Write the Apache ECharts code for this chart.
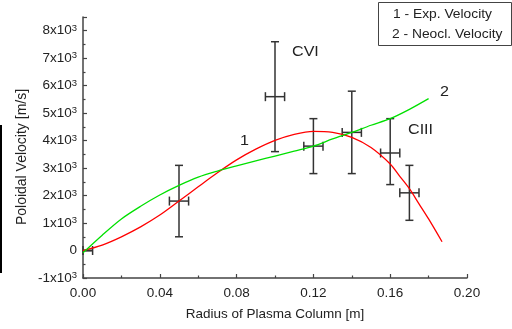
<!DOCTYPE html>
<html>
<head>
<meta charset="utf-8">
<script src="https://cdn.jsdelivr.net/npm/echarts@6/dist/echarts.min.js"></script>
<style>html,body{margin:0;padding:0;background:#fff;}#c{width:512px;height:329px;}</style>
</head>
<body>
<div id="c"></div>
<script>
// Curve 1: experimental velocity (red)
const expX = [0, 0.01, 0.02, 0.03, 0.04, 0.05, 0.06, 0.07, 0.08, 0.09, 0.10, 0.11, 0.12, 0.13, 0.14, 0.15, 0.16, 0.165, 0.17, 0.175, 0.18, 0.187];
const expY = [0, 200, 500, 860, 1290, 1800, 2320, 2830, 3300, 3690, 4010, 4230, 4340, 4300, 4120, 3750, 3150, 2700, 2250, 1700, 1150, 320];
// Curve 2: neoclassical velocity (green)
const neoX = [0, 0.01, 0.02, 0.03, 0.04, 0.05, 0.06, 0.07, 0.08, 0.09, 0.10, 0.11, 0.12, 0.13, 0.14, 0.15, 0.16, 0.17, 0.18];
const neoY = [-80, 560, 1150, 1610, 2020, 2370, 2670, 2890, 3080, 3260, 3440, 3620, 3800, 4060, 4300, 4560, 4800, 5140, 5530];
// Measured points with error bars
const ptX   = [0.0025, 0.05, 0.10, 0.12, 0.14, 0.16, 0.17];
const ptY   = [0, 1800, 5600, 3800, 4300, 3550, 2100];
const ptXlo = [0.0, 0.045, 0.095, 0.115, 0.135, 0.155, 0.165];
const ptXhi = [0.005, 0.055, 0.105, 0.125, 0.145, 0.165, 0.175];
const ptYlo = [0, 500, 3600, 2800, 2800, 2400, 1100];
const ptYhi = [0, 3100, 7600, 4800, 5800, 4800, 3100];
const xTicks = [0.00, 0.04, 0.08, 0.12, 0.16, 0.20];
const yTicks = [-1000, 0, 1000, 2000, 3000, 4000, 5000, 6000, 7000, 8000];
const legendLines = ['1 - Exp. Velocity', '2 - Neocl. Velocity'];
const xTitle = 'Radius of Plasma Column [m]';
const yTitle = 'Poloidal Velocity [m/s]';

const FONT = '"Liberation Sans", Arial, sans-serif';
const SX = 1.15; // horizontal stretch of the reference's free text
const chart = echarts.init(document.getElementById('c'));
const errData = ptX.map((x, i) => [x, ptY[i], ptXlo[i], ptXhi[i], ptYlo[i], ptYhi[i]]);

function yLabel(v) {
  if (v === 0) return '{n|0}';
  const n = v / 1000;
  return '{n|' + n + 'x10}{s|3}';
}
function txt(x, y, text, size) {
  return { type: 'text', x: x, y: y, scaleX: SX, style: { text: text, font: size + 'px ' + FONT, fill: '#222', align: 'left', verticalAlign: 'top' } };
}

chart.setOption({
  animation: false,
  backgroundColor: '#fff',
  grid: { left: 83, right: 45, top: 17, bottom: 51, containLabel: false },
  xAxis: {
    type: 'value', min: 0, max: 0.2, interval: 0.04,
    name: xTitle, nameLocation: 'middle', nameGap: 29,
    nameTextStyle: { fontFamily: FONT, fontSize: 13.5, color: '#222' },
    axisLine: { show: true, onZero: false, lineStyle: { color: '#444', width: 1.5 } },
    axisTick: { show: true, inside: true, length: 4, lineStyle: { color: '#444', width: 1.2 } },
    minorTick: { show: true, splitNumber: 2, length: 2.5, lineStyle: { color: '#444', width: 1.2 } },
    splitLine: { show: false },
    axisLabel: { fontFamily: FONT, fontSize: 13.5, color: '#222', margin: 8,
      formatter: v => xTicks.includes(Math.round(v * 100) / 100) ? v.toFixed(2) : '' }
  },
  yAxis: {
    type: 'value', min: -1000, max: 8500, interval: 1000,
    axisLine: { show: true, onZero: false, lineStyle: { color: '#444', width: 1.5 } },
    axisTick: { show: true, inside: true, length: 4, lineStyle: { color: '#444', width: 1.2 } },
    minorTick: { show: true, splitNumber: 2, length: 2.5, lineStyle: { color: '#444', width: 1.2 } },
    splitLine: { show: false },
    axisLabel: {
      showMaxLabel: false, margin: 6,
      formatter: v => yTicks.includes(v) ? yLabel(v) : '',
      fontFamily: FONT, fontSize: 13.5, color: '#222',
      rich: {
        n: { fontFamily: FONT, fontSize: 13.5, color: '#222' },
        s: { fontFamily: FONT, fontSize: 9.5, color: '#222', verticalAlign: 'top', padding: [0, 0, 5, 0] }
      }
    }
  },
  series: [
    {
      type: 'custom', name: 'points', data: errData, z: 2,
      renderItem: function (params, api) {
        const x = api.value(0), y = api.value(1);
        const pl = api.coord([api.value(2), y]);
        const ph = api.coord([api.value(3), y]);
        const pb = api.coord([x, api.value(4)]);
        const pt = api.coord([x, api.value(5)]);
        const cw = 4, ch = 4.5;
        const st = { stroke: '#333', lineWidth: 1.5, fill: null };
        const L = (x1, y1, x2, y2) => ({ type: 'line', shape: { x1, y1, x2, y2 }, style: st });
        return { type: 'group', children: [
          L(pb[0], pb[1], pt[0], pt[1]),
          L(pt[0] - cw, pt[1], pt[0] + cw, pt[1]),
          L(pb[0] - cw, pb[1], pb[0] + cw, pb[1]),
          L(pl[0], pl[1], ph[0], ph[1]),
          L(pl[0], pl[1] - ch, pl[0], pl[1] + ch),
          L(ph[0], ph[1] - ch, ph[0], ph[1] + ch)
        ] };
      }
    },
    {
      type: 'line', name: legendLines[0], data: expX.map((x, i) => [x, expY[i]]),
      showSymbol: false, smooth: 0.3, z: 3,
      lineStyle: { color: '#ff0000', width: 1.3 }
    },
    {
      type: 'line', name: legendLines[1], data: neoX.map((x, i) => [x, neoY[i]]),
      showSymbol: false, smooth: 0.3, z: 3,
      lineStyle: { color: '#00e000', width: 1.3 }
    }
  ],
  graphic: [
    { type: 'rect', left: 0, top: 125, shape: { width: 2, height: 148 }, style: { fill: '#000' } },
    { type: 'text', x: 22.5, y: 157, rotation: Math.PI / 2,
      style: { text: yTitle, font: '14px ' + FONT, fill: '#222', align: 'center', verticalAlign: 'middle' } },
    { type: 'rect', shape: { x: 378.5, y: 2.5, width: 133, height: 43 }, style: { fill: '#fff', stroke: '#444', lineWidth: 1 } },
    txt(393, 8.5, legendLines[0], 12),
    txt(392, 28.5, legendLines[1], 12),
    txt(292, 45.5, 'CVI', 14),
    txt(408, 123.5, 'CIII', 14),
    txt(240, 134, '1', 14),
    txt(440, 85, '2', 14)
  ]
});
</script>
</body>
</html>
